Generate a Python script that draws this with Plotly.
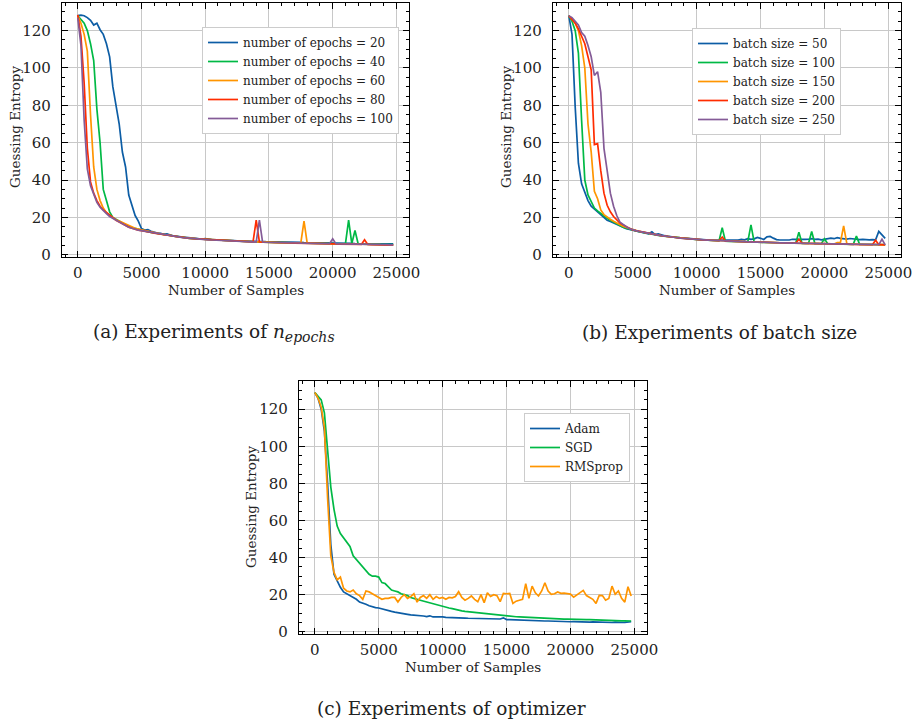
import plotly.graph_objects as go

# ---------------- data ----------------
samples = list(range(0, 25000, 250))  # number of samples, 100 points

epochs_labels = ["number of epochs = 20", "number of epochs = 40", "number of epochs = 60",
                 "number of epochs = 80", "number of epochs = 100"]
ge_epochs20 = [128,128.3,128,127,125.5,123,124,120.5,118,113,
               106,90,80,70,55,47,32,26,21,18,
               14,13.2,13.5,12.6,12,11.6,11.5,10.9,11.2,10.4,
               10,9.8,9.6,9.4,9.2,9,8.9,8.7,8.5,8.4,
               8.6,8.2,8.1,8,8,7.9,7.8,7.8,7.7,7.6,
               7.5,7.5,7.4,7.4,7.3,7.3,7.2,7.2,7.1,7.0,
               7.0,6.9,6.9,6.8,6.8,6.8,6.7,6.7,6.6,6.6,
               6.6,6.5,6.5,6.5,6.4,6.4,6.4,6.3,6.3,6.3,
               6.2,6.2,6.2,6.1,6.1,6.1,6.1,6.0,6.0,6.0,
               6.0,6.1,6.0,5.9,6.0,6.1,5.9,6.0,6.2,5.9]
ge_epochs40 = [128,126,124,120,113,104,78,60,35,29,
               23,20,19,18,17,16,15.2,14.5,14,13.6,
               13.2,12.8,12.4,12.0,11.7,11.3,11.0,10.7,10.4,10.1,
               9.9,9.6,9.4,9.2,9.0,8.8,8.7,8.5,8.4,8.3,
               8.1,8.0,7.9,7.8,7.7,7.6,7.5,7.4,7.4,7.3,
               7.2,7.1,7.1,7.0,7.0,6.9,6.9,6.8,6.8,6.7,
               6.7,6.6,6.6,6.5,6.5,6.4,6.4,6.4,6.3,6.3,
               6.2,6.2,6.2,6.1,6.1,6.1,6.0,6.0,6.0,5.9,
               5.9,5.9,5.8,5.8,5.8,18.5,6.0,13.0,5.8,5.7,
               5.7,5.6,5.6,5.6,5.5,5.5,5.5,5.4,5.4,5.4]
ge_epochs60 = [128,124,118,109,75,47,35,29,25,22.5,
               21,19.8,18.8,18,17.2,16.3,15.5,14.8,14.2,13.7,
               13.3,12.9,12.6,12.1,11.7,11.5,11.1,10.8,10.6,10.2,
               9.9,9.7,9.5,9.4,9.1,8.9,8.8,8.6,8.4,8.3,
               8.2,8.1,8.0,7.9,7.8,7.7,7.6,7.5,7.4,7.3,
               7.3,7.2,7.1,7.1,7.0,7.0,6.9,6.9,6.8,6.8,
               6.7,6.7,6.6,6.6,6.5,6.5,6.4,6.4,6.3,6.3,
               6.3,18.0,6.2,6.2,6.1,6.1,6.0,6.0,6.0,5.9,
               5.9,5.9,5.8,5.8,5.8,5.7,5.7,5.7,5.6,5.6,
               5.6,5.5,5.5,5.5,5.5,5.4,5.4,5.4,5.4,5.3]
ge_epochs80 = [128.5,117,92,57,39,33,29,26,24,22.5,
               21,19.5,18.5,17.5,16.5,15.5,14.8,14.2,13.6,13.2,
               12.9,12.7,12.3,12.0,11.6,11.3,11.0,10.7,10.4,10.1,
               9.8,9.6,9.4,9.2,9.0,8.8,8.7,8.5,8.4,8.2,
               8.1,8.0,7.9,7.8,7.7,7.6,7.5,7.4,7.3,7.2,
               7.2,7.1,7.0,7.0,6.9,6.9,18.5,6.8,6.7,6.7,
               6.6,6.6,6.5,6.5,6.4,6.4,6.3,6.3,6.2,6.2,
               6.2,6.1,6.1,6.1,6.0,6.0,5.9,5.9,5.9,5.8,
               5.8,5.8,5.7,5.7,5.7,5.6,5.6,5.6,5.5,5.5,
               8.0,5.5,5.4,5.4,5.4,5.3,5.3,5.3,5.3,5.2]
ge_epochs100 = [127,112,72,46,37,32,28,25.5,23.5,22,
                20.5,19.5,18.5,17.5,16.5,15.5,14.8,14.2,13.6,13.2,
                12.9,12.6,12.3,11.9,11.6,11.3,11.0,10.6,10.4,10.1,
                9.8,9.6,9.4,9.2,9.0,8.8,8.7,8.5,8.4,8.3,
                8.1,8.0,7.9,7.8,7.7,7.6,7.5,7.4,7.3,7.3,
                7.2,7.1,7.1,7.0,6.9,6.9,6.8,18.5,6.8,6.7,
                6.7,6.6,6.6,6.5,6.5,6.4,6.4,6.3,6.3,6.3,
                6.2,6.2,6.1,6.1,6.1,6.0,6.0,6.0,5.9,5.9,
                8.5,5.9,5.8,5.8,5.8,5.7,5.7,5.7,5.6,5.6,
                5.6,5.5,5.5,5.5,5.4,5.4,5.4,5.4,5.3,5.3]

batch_labels = ["batch size = 50", "batch size = 100", "batch size = 150",
                "batch size = 200", "batch size = 250"]
ge_bs50 = [128,118,79,49,38,33,29,26,24.5,23,
           21,19.5,18.5,17.8,17,16,15.2,14.5,14,13.5,
           13,12.6,12.3,11.9,11.5,11.2,12.3,10.8,11.2,10.6,
           10.2,9.9,9.6,9.4,9.2,9.0,8.9,8.7,8.6,8.4,
           8.3,8.2,8.1,8.0,8.0,7.9,7.9,7.8,7.9,7.8,
           7.7,7.8,7.7,7.8,8.2,8.0,8.6,8.2,8.5,9.3,
           8.8,8.2,9.6,9.8,8.9,8.1,7.9,7.8,7.9,7.9,
           8.3,8.2,8.3,8.4,8.2,8.3,8.6,8.2,8.4,8.0,
           8.2,8.5,8.9,8.6,9.2,8.8,8.5,8.4,8.7,8.4,
           8.3,8.1,8.2,7.9,8.0,8.1,8.0,12.5,10.8,8.8]
ge_bs100 = [128,125,120,108,72,40,32,28,25,23.5,
            22,20.5,19.5,18.5,17.5,16.5,15.5,14.8,14.2,13.6,
            13.2,12.8,12.4,12.0,11.7,11.3,11.0,10.7,10.4,10.1,
            9.9,9.6,9.4,9.2,9.0,8.8,8.7,8.5,8.4,8.3,
            8.1,8.0,7.9,7.8,7.7,7.6,7.5,7.4,14.5,7.3,
            7.2,7.1,7.1,7.0,7.0,6.9,6.9,16.0,6.8,6.7,
            6.7,6.6,6.6,6.5,6.5,6.4,6.4,6.4,6.3,6.3,
            6.2,6.2,12.0,6.1,6.1,6.1,12.5,6.0,6.0,5.9,
            8.5,5.9,5.8,5.8,5.8,5.7,5.7,5.7,5.6,5.6,
            10.0,5.6,5.6,5.5,5.5,5.5,5.4,5.4,5.4,5.4]
ge_bs150 = [128,126,124,120,112,100,70,55,34,30,
            24,21.5,20,19,18,17,16,15.3,14.6,14,
            13.5,13.0,12.6,12.2,11.8,11.4,11.1,10.8,10.5,10.2,
            9.9,9.7,9.5,9.3,9.1,8.9,8.7,8.6,8.4,8.3,
            8.2,8.1,8.0,7.9,7.8,7.7,7.6,7.5,7.4,7.3,
            7.3,7.2,7.1,7.1,7.0,7.0,6.9,6.9,6.8,6.8,
            6.7,6.7,6.6,6.6,6.5,6.5,6.4,6.4,6.3,6.3,
            6.3,6.2,6.2,6.2,6.1,6.1,6.0,6.0,6.0,5.9,
            5.9,5.9,5.8,5.8,6.5,6.6,15.5,6.0,5.8,5.7,
            5.7,5.6,5.6,5.6,5.5,5.5,5.5,5.4,5.4,5.3]
ge_bs200 = [128,126,124,121,117,113,106,99,59,59.5,
            45,33,26.5,23,20.5,18.5,17,16,15,14,
            13.3,12.9,12.5,12.1,11.7,11.4,11.1,10.8,10.5,10.2,
            9.9,9.7,9.5,9.3,9.1,8.9,8.7,8.6,8.4,8.3,
            8.2,8.1,8.0,7.9,7.8,7.7,7.6,7.5,9.5,7.3,
            7.3,7.2,7.1,7.1,7.0,7.0,6.9,6.9,6.8,6.8,
            6.7,6.7,6.6,6.6,6.5,6.5,6.4,6.4,6.3,6.3,
            6.3,6.2,8.3,6.2,6.1,6.1,6.0,6.0,6.0,5.9,
            5.9,5.9,5.8,5.8,5.8,5.7,5.7,5.7,5.6,5.6,
            5.6,5.5,5.5,5.5,5.5,5.4,7.8,5.4,5.4,5.3]
ge_bs250 = [128,127,125,123,119,117,112,106,96,98,
            87,57,45,33,26,21,17.5,16,15,14,
            13.3,12.9,12.5,12.1,11.7,11.4,11.1,10.8,10.5,10.2,
            9.9,9.7,9.5,9.3,9.1,8.9,8.7,8.6,8.4,8.3,
            8.2,8.1,8.0,7.9,7.8,7.7,7.6,7.5,7.4,7.3,
            7.3,7.2,7.1,7.1,7.0,7.0,6.9,6.9,6.8,6.8,
            6.7,6.7,6.6,6.6,6.5,6.5,6.4,6.4,6.3,6.3,
            6.3,6.2,6.2,6.2,6.1,6.1,6.0,6.0,6.0,5.9,
            5.9,5.9,5.8,5.8,5.8,5.7,5.7,5.7,5.6,5.6,
            5.6,5.5,5.5,5.5,5.5,5.4,5.4,5.4,8.3,5.3]

optimizer_labels = ["Adam", "SGD", "RMSprop"]
ge_adam = [129,126,120,108,80,47,31,27.5,24,21.5,
           20.5,19.5,18.5,17.5,16,15.5,14.8,14,13.3,13,
           12.8,12.3,11.6,11.2,11,10.6,10.2,10,9.7,9.4,
           9.1,9,8.9,8.8,8.5,8.2,8.6,8,8.1,8,
           8,7.8,7.8,7.7,7.6,7.5,7.5,7.4,7.3,7.3,
           7.2,7.2,7.1,7.1,7.0,7.0,7.0,6.9,6.9,7.5,
           6.6,6.6,6.5,6.5,6.4,6.3,6.1,6.3,6.0,6.0,
           5.9,5.8,5.8,5.8,5.7,5.7,5.6,5.7,5.5,5.5,
           5.4,5.5,5.4,5.3,5.4,5.3,5.2,5.3,5.2,5.2,
           5.1,5.0,5.1,5.0,5.2,4.9,5.0,5.1,5.3,5.4]
ge_sgd = [129,127,125,118,98,78,66,57,53,50.5,
          48.5,46,41,39,37,35,33,31,30,30,
          29.5,26.5,26,24,22.5,22,21.5,20.5,20,19.5,
          18.5,17.8,17.5,17,16.5,16,15.7,15.3,14.5,14,
          13.5,13,12.8,12.5,12,11.8,11.3,11,10.8,10.5,
          10.3,10.2,9.9,9.7,9.5,9.3,9.1,9.0,8.8,8.7,
          8.5,8.4,8.3,8.1,8.0,7.9,7.8,7.7,7.5,7.3,
          7.2,7.2,7.1,7.1,7.0,7.0,7.0,6.9,6.8,6.8,
          6.7,6.7,6.6,6.6,6.5,6.5,6.5,6.4,6.4,6.3,
          6.3,6.2,6.1,6.1,6.0,6.0,5.9,5.9,5.8,5.8]
ge_rmsprop = [129,126,121,110,72,41,32,28,29.5,23.5,
              22,21.5,22.5,20.5,19.5,17.5,22,21.5,20.5,19.5,
              18.5,17.5,18,18,18.5,18.5,16,18.5,20,18,
              19,20.5,16,18.5,19.5,18,20,17.5,19,18,
              18.5,17.5,18.5,18.3,19,21.6,18.5,17,18,19.3,
              17.5,16.2,20,15.7,21,19,20,19.5,16.2,20.7,
              20.5,20.7,15.3,16.5,17,17.5,25.9,18,24.6,21,
              19.3,22,26.4,22,20.2,20.5,21.5,20.7,20.8,20.5,
              20.3,18.7,20,21.5,22.3,19.5,18.4,17.5,15.3,19.6,
              19.5,17,18,24.6,20.2,22,18,16,24.3,19.3]

x_ticks = [0, 5000, 10000, 15000, 20000, 25000]
y_ticks = [0, 20, 40, 60, 80, 100, 120]

# ---------------- styling ----------------
colors = ["#0C5DA5", "#00B945", "#FF9500", "#FF2C00", "#845B97"]
FONT = "DejaVu Serif"
W, H = 912, 725

def px_x(a, b):
    return [a / W, b / W]

def px_y(top, bottom):
    return [1 - bottom / H, 1 - top / H]

fig = go.Figure()

panels = [
    dict(xa="x", ya="y", legend="legend",
         series=[ge_epochs20, ge_epochs40, ge_epochs60, ge_epochs80, ge_epochs100],
         labels=epochs_labels),
    dict(xa="x2", ya="y2", legend="legend2",
         series=[ge_bs50, ge_bs100, ge_bs150, ge_bs200, ge_bs250],
         labels=batch_labels),
    dict(xa="x3", ya="y3", legend="legend3",
         series=[ge_adam, ge_sgd, ge_rmsprop],
         labels=optimizer_labels),
]

for p in panels:
    for i, (vals, lab) in enumerate(zip(p["series"], p["labels"])):
        fig.add_trace(go.Scatter(
            x=samples, y=vals, mode="lines", name=lab,
            line=dict(color=colors[i], width=1.7),
            xaxis=p["xa"], yaxis=p["ya"], legend=p["legend"],
        ))

def xaxis_style(domain, anchor):
    return dict(
        domain=domain, anchor=anchor, range=[-1237.5, 25987.5],
        tickvals=x_ticks, ticktext=[str(v) for v in x_ticks],
        ticks="inside", ticklen=6, tickwidth=1, tickcolor="black",
        showline=True, linecolor="black", linewidth=1.2, mirror="allticks",
        showgrid=True, gridcolor="#c8c8c8", gridwidth=1.3, zeroline=False,
        tickfont=dict(family=FONT, size=15, color="#222"),
        ticklabeloverflow="allow", ticklabelstandoff=2,
        minor=dict(dtick=1000, tick0=0, ticks="inside", ticklen=3, tickwidth=1,
                   tickcolor="black", showgrid=False),
        automargin=False,
    )

def yaxis_style(domain, anchor, rng):
    return dict(
        domain=domain, anchor=anchor, range=rng,
        tickvals=y_ticks, ticktext=[str(v) for v in y_ticks],
        ticks="inside", ticklen=6, tickwidth=1, tickcolor="black",
        showline=True, linecolor="black", linewidth=1.2, mirror="allticks",
        showgrid=True, gridcolor="#c8c8c8", gridwidth=1.3, zeroline=False,
        tickfont=dict(family=FONT, size=15, color="#222"),
        ticklabeloverflow="allow", ticklabelstandoff=7,
        minor=dict(dtick=5, tick0=0, ticks="inside", ticklen=3, tickwidth=1,
                   tickcolor="black", showgrid=False),
        automargin=False,
    )

legend_common = dict(
    bgcolor="white", bordercolor="#cccccc", borderwidth=1,
    font=dict(family=FONT, size=12, color="#222"),
    xanchor="left", yanchor="top", itemwidth=30, tracegroupgap=0,
)

fig.update_layout(
    width=W, height=H,
    margin=dict(l=0, r=0, t=0, b=0),
    paper_bgcolor="white", plot_bgcolor="white",
    font=dict(family=FONT, color="#222"),
    showlegend=True,
    xaxis=xaxis_style(px_x(62, 409), "y"),
    yaxis=yaxis_style(px_y(3, 257), "x", [-1.2, 134.8]),
    xaxis2=xaxis_style(px_x(553, 901), "y2"),
    yaxis2=yaxis_style(px_y(3, 257), "x2", [-1.2, 134.8]),
    xaxis3=xaxis_style(px_x(299, 647), "y3"),
    yaxis3=yaxis_style(px_y(381, 634), "x3", [-1.2, 135.2]),
    legend=dict(x=202 / W, y=1 - 27 / H, **legend_common),
    legend2=dict(x=692 / W, y=1 - 28 / H, **legend_common),
    legend3=dict(x=524 / W, y=1 - 413 / H, **legend_common),
)

annotations = []
def add_text(text, xpx, ypx, size, angle=0):
    annotations.append(dict(
        text=text, x=xpx / W, y=1 - ypx / H, xref="paper", yref="paper",
        showarrow=False, textangle=angle, xanchor="center", yanchor="middle",
        font=dict(family=FONT, size=size, color="#222"),
    ))

# axis titles
add_text("Guessing Entropy", 15, 127, 13.5, -90)
add_text("Guessing Entropy", 506, 127, 13.5, -90)
add_text("Guessing Entropy", 251, 507, 13.5, -90)
add_text("Number of Samples", 236, 290, 13.5)
add_text("Number of Samples", 727, 290, 13.5)
add_text("Number of Samples", 473, 667, 13.5)
# captions
add_text("(a) Experiments of <i>n</i><sub><span style='font-size:14px'><i>epochs</i></span></sub>",
         214, 333, 18.5)
add_text("(b) Experiments of batch size", 719, 333, 18.5)
add_text("(c) Experiments of optimizer", 451, 708, 18.5)

fig.update_layout(annotations=annotations)

fig.write_html("out.html",
               config={"displayModeBar": False},
               post_script="document.body.style.margin='0';document.body.style.overflow='hidden';")
